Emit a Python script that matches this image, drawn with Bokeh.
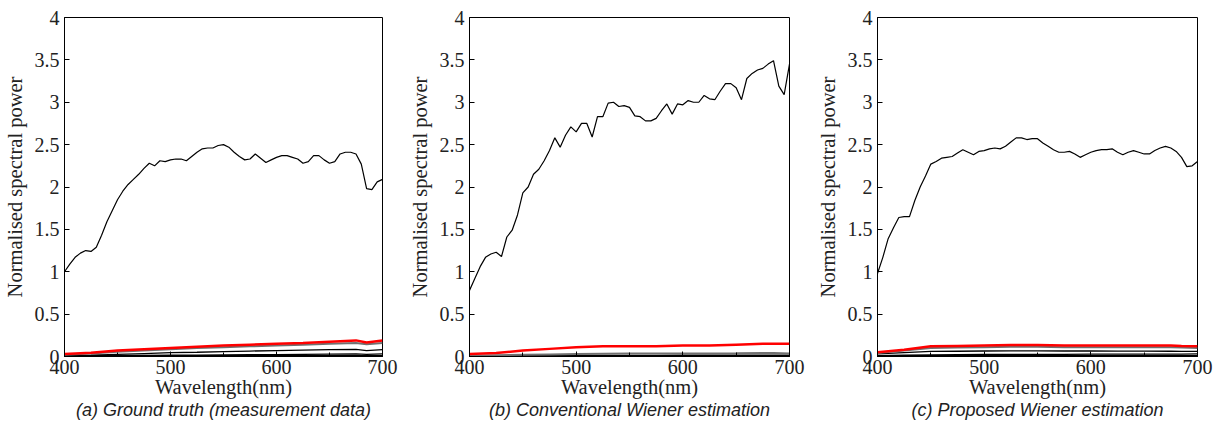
from bokeh.plotting import figure
from bokeh.layouts import row
from bokeh.models import SingleIntervalTicker, NumeralTickFormatter, Title, Range1d
from bokeh.embed import file_html
from bokeh.resources import INLINE

# ---------------- data ----------------
wavelength = list(range(400, 705, 5))
wl_low = [400, 425, 450, 475, 500, 525, 550, 575, 600, 625, 650, 675, 685, 700]

gt_main = [1.00, 1.09, 1.17, 1.22, 1.25, 1.24, 1.29, 1.43, 1.59, 1.72,
           1.85, 1.95, 2.03, 2.09, 2.15, 2.22, 2.28, 2.25, 2.31, 2.30,
           2.32, 2.33, 2.33, 2.31, 2.36, 2.41, 2.45, 2.46, 2.46, 2.49,
           2.50, 2.47, 2.41, 2.36, 2.32, 2.33, 2.39, 2.34, 2.29, 2.32,
           2.35, 2.37, 2.37, 2.35, 2.33, 2.28, 2.30, 2.37, 2.37, 2.32,
           2.28, 2.30, 2.39, 2.41, 2.41, 2.39, 2.27, 1.98, 1.97, 2.06, 2.09]
gt_red = [0.03, 0.045, 0.07, 0.085, 0.10, 0.115, 0.13, 0.14, 0.15, 0.16, 0.175, 0.19, 0.165, 0.19]
gt_gray = [0.02, 0.035, 0.055, 0.07, 0.085, 0.10, 0.11, 0.12, 0.13, 0.14, 0.15, 0.16, 0.145, 0.16]
gt_black1 = [0.01, 0.015, 0.025, 0.035, 0.045, 0.05, 0.058, 0.064, 0.07, 0.075, 0.08, 0.085, 0.07, 0.08]
gt_black2 = [0.004, 0.006, 0.01, 0.012, 0.015, 0.017, 0.019, 0.021, 0.023, 0.025, 0.027, 0.03, 0.026, 0.03]
gt_black3 = [0.0] * 14

cw_main = [0.78, 0.92, 1.06, 1.17, 1.21, 1.23, 1.18, 1.41, 1.49, 1.67,
           1.93, 2.00, 2.15, 2.21, 2.31, 2.43, 2.58, 2.47, 2.61, 2.71,
           2.65, 2.75, 2.75, 2.59, 2.83, 2.83, 2.99, 3.00, 2.95, 2.96,
           2.94, 2.84, 2.83, 2.78, 2.78, 2.81, 2.90, 2.98, 2.86, 2.98,
           2.97, 3.02, 3.00, 3.00, 3.08, 3.04, 3.03, 3.13, 3.22, 3.22,
           3.17, 3.03, 3.28, 3.34, 3.38, 3.40, 3.45, 3.49, 3.19, 3.09, 3.45]
cw_red = [0.03, 0.04, 0.07, 0.09, 0.11, 0.12, 0.12, 0.12, 0.13, 0.13, 0.14, 0.15, 0.15, 0.15]
cw_gray = [0.01, 0.015, 0.02, 0.025, 0.03, 0.032, 0.034, 0.034, 0.035, 0.036, 0.037, 0.04, 0.04, 0.035]
cw_black1 = [0.004, 0.006, 0.008, 0.01, 0.012, 0.013, 0.014, 0.014, 0.015, 0.015, 0.016, 0.017, 0.017, 0.016]
cw_black2 = [0.0] * 14

pw_main = [0.98, 1.17, 1.39, 1.52, 1.64, 1.65, 1.65, 1.84, 2.00, 2.13,
           2.27, 2.30, 2.34, 2.35, 2.36, 2.40, 2.44, 2.41, 2.38, 2.42,
           2.43, 2.45, 2.46, 2.45, 2.48, 2.53, 2.58, 2.58, 2.56, 2.57,
           2.57, 2.52, 2.48, 2.44, 2.41, 2.41, 2.42, 2.39, 2.35, 2.38,
           2.41, 2.43, 2.44, 2.44, 2.45, 2.41, 2.38, 2.41, 2.43, 2.41,
           2.39, 2.39, 2.43, 2.46, 2.48, 2.46, 2.42, 2.35, 2.24, 2.25, 2.30]
pw_red = [0.05, 0.08, 0.12, 0.125, 0.13, 0.135, 0.135, 0.13, 0.13, 0.13, 0.13, 0.13, 0.125, 0.12]
pw_gray = [0.04, 0.07, 0.10, 0.105, 0.11, 0.115, 0.115, 0.11, 0.11, 0.11, 0.11, 0.11, 0.105, 0.10]
pw_black1 = [0.03, 0.045, 0.06, 0.062, 0.065, 0.066, 0.066, 0.065, 0.065, 0.064, 0.063, 0.062, 0.06, 0.06]
pw_black2 = [0.01, 0.015, 0.02, 0.022, 0.024, 0.025, 0.026, 0.026, 0.027, 0.028, 0.028, 0.029, 0.029, 0.03]
pw_black3 = [0.0] * 14

x_ticks_interval = 100
y_ticks_interval = 0.5

panels = [
    ("(a) Ground truth (measurement data)", gt_main, gt_red, [gt_gray], [gt_black1, gt_black2], gt_black3, 405, 62, 23),
    ("(b) Conventional Wiener estimation", cw_main, cw_red, [cw_gray], [cw_black1], cw_black2, 405, 64, 21),
    ("(c) Proposed Wiener estimation", pw_main, pw_red, [pw_gray], [pw_black1, pw_black2], pw_black3, 404, 67, 17),
]

SERIF = "Liberation Serif"
figs = []
for caption, main, red, grays, blacks, zero, w, bl, br in panels:
    p = figure(width=w, height=423, output_backend="svg", toolbar_location=None,
               x_range=Range1d(400, 700), y_range=Range1d(0, 4),
               min_border_left=bl, min_border_right=br, min_border_top=17, min_border_bottom=67)
    p.background_fill_color = "white"
    p.border_fill_color = "white"
    p.outline_line_color = "black"
    p.outline_line_width = 1
    p.xgrid.visible = False
    p.ygrid.visible = False

    # low curves
    p.line(wl_low, zero, line_color="black", line_width=3)
    for b in blacks:
        p.line(wl_low, b, line_color="black", line_width=1.3)
    for g in grays:
        p.line(wl_low, g, line_color="#707070", line_width=2)
    p.line(wl_low, red, line_color="#ff0000", line_width=2.5)
    p.line(wavelength, main, line_color="black", line_width=1.2)

    xa = p.xaxis[0]
    xa.ticker = SingleIntervalTicker(interval=x_ticks_interval, num_minor_ticks=2)
    xa.axis_label = "Wavelength(nm)"
    ya = p.yaxis[0]
    ya.ticker = SingleIntervalTicker(interval=y_ticks_interval, num_minor_ticks=0)
    ya.formatter = NumeralTickFormatter(format="0.[0]")
    ya.axis_label = "Normalised spectral power"
    for ax in (xa, ya):
        ax.major_tick_in = 5
        ax.major_tick_out = 0
        ax.minor_tick_in = 4
        ax.minor_tick_out = 0
        ax.axis_line_color = "black"
        ax.major_tick_line_color = "black"
        ax.minor_tick_line_color = "black"
        ax.major_label_text_font = SERIF
        ax.major_label_text_font_size = "20px"
        ax.major_label_text_color = "#222222"
        ax.axis_label_text_font = SERIF
        ax.axis_label_text_font_size = "20.5px"
        ax.axis_label_text_font_style = "normal"
        ax.axis_label_text_color = "#222222"
    ya.minor_tick_line_color = None
    xa.major_label_standoff = 3
    xa.axis_label_standoff = -1
    ya.major_label_standoff = 5
    ya.axis_label_standoff = 6

    t = Title(text=caption, align="center", text_font="Liberation Sans",
              text_font_style="italic", text_font_size="18px", text_color="#222222",
              standoff=-6)
    p.add_layout(t, "below")
    figs.append(p)

layout = row(*figs, spacing=0)
open("out.html", "w").write(file_html(layout, INLINE))
